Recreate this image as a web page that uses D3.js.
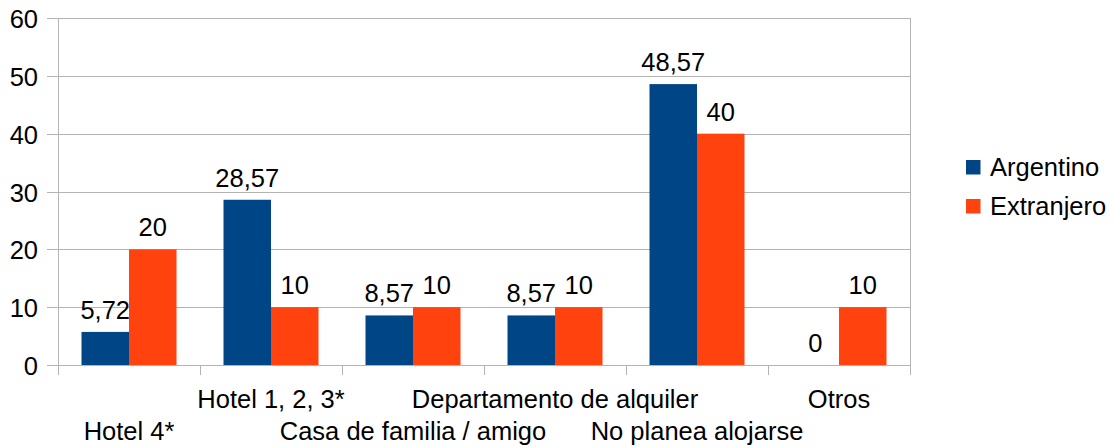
<!DOCTYPE html>
<html>
<head>
<meta charset="utf-8">
<script src="https://cdn.jsdelivr.net/npm/d3@7"></script>
<style>
	body { margin: 0; background: #fff; }
	text { font-family: "Liberation Sans", Arial, sans-serif; fill: #000; }
</style>
</head>
<body>
<div id="chart"></div>
<script>
// Data
var categories = ["Hotel 4*", "Hotel 1, 2, 3*", "Casa de familia / amigo", "Departamento de alquiler", "No planea alojarse", "Otros"];
var argentino = [5.72, 28.57, 8.57, 8.57, 48.57, 0];
var extranjero = [20, 10, 10, 10, 40, 10];
var seriesNames = ["Argentino", "Extranjero"];
var yTicks = [0, 10, 20, 30, 40, 50, 60];

var colors = ["#004586", "#ff420e"];
var fontSize = "25.5px";

var size = { width: 1116, height: 448 };
var plot = { left: 58, right: 910, top: 18, bottom: 365 };

var svg = d3.select("#chart").append("svg")
	.attr("width", size.width)
	.attr("height", size.height);

// scales
var x = d3.scaleBand()
	.domain(categories)
	.range([plot.left, plot.right]);

var y = d3.scaleLinear()
	.domain([0, 60])
	.range([plot.bottom, plot.top]);

var barW = 47.5;

// gridlines
svg.append("g").selectAll("line")
	.data(yTicks)
	.enter()
	.append("line")
	.attr("x1", plot.left - 11)
	.attr("x2", plot.right)
	.attr("y1", function(d) { return Math.round(y(d)) + 0.5; })
	.attr("y2", function(d) { return Math.round(y(d)) + 0.5; })
	.attr("stroke", "#b3b3b3")
	.attr("stroke-width", 1);

// y tick labels
svg.append("g").selectAll("text")
	.data(yTicks)
	.enter()
	.append("text")
	.attr("x", 38)
	.attr("y", function(d) { return y(d) + 10; })
	.attr("text-anchor", "end")
	.style("font-size", fontSize)
	.text(function(d) { return d; });

// vertical axis lines
svg.append("line")
	.attr("x1", plot.left + 0.5).attr("x2", plot.left + 0.5)
	.attr("y1", plot.top).attr("y2", plot.bottom + 1)
	.attr("stroke", "#b3b3b3");
svg.append("line")
	.attr("x1", plot.right + 0.5).attr("x2", plot.right + 0.5)
	.attr("y1", plot.top).attr("y2", plot.bottom + 1)
	.attr("stroke", "#b3b3b3");

// x category ticks
var tickPos = categories.map(function(c) { return x(c); }).concat([plot.right]);
svg.append("g").selectAll("line")
	.data(tickPos)
	.enter()
	.append("line")
	.attr("x1", function(d) { return Math.round(d) + 0.5; })
	.attr("x2", function(d) { return Math.round(d) + 0.5; })
	.attr("y1", plot.bottom)
	.attr("y2", plot.bottom + 10)
	.attr("stroke", "#b3b3b3");

// bars
var seriesData = [argentino, extranjero];
seriesData.forEach(function(values, s) {
	var g = svg.append("g");
	g.selectAll("rect")
		.data(values)
		.enter()
		.append("rect")
		.attr("x", function(d, i) { return x(categories[i]) + x.bandwidth() / 2 - barW + s * barW; })
		.attr("y", function(d) { return y(d); })
		.attr("width", barW)
		.attr("height", function(d) { return y(0) - y(d); })
		.attr("fill", colors[s]);

	g.selectAll("text")
		.data(values)
		.enter()
		.append("text")
		.attr("x", function(d, i) { return x(categories[i]) + x.bandwidth() / 2 - barW / 2 + s * barW; })
		.attr("y", function(d) { return y(d) - 13; })
		.attr("text-anchor", "middle")
		.style("font-size", fontSize)
		.text(function(d) { return String(d).replace(".", ","); });
});

// category labels, staggered
svg.append("g").selectAll("text")
	.data(categories)
	.enter()
	.append("text")
	.attr("x", function(d) { return x(d) + x.bandwidth() / 2; })
	.attr("y", function(d, i) { return i % 2 == 0 ? 440 : 408; })
	.attr("text-anchor", "middle")
	.style("font-size", fontSize)
	.text(function(d) { return d; });

// legend
var legend = svg.append("g")
	.attr("transform", "translate(966, 160)");

seriesNames.forEach(function(name, i) {
	var item = legend.append("g")
		.attr("transform", "translate(0, " + (i * 39) + ")");
	item.append("rect")
		.attr("width", 14.5)
		.attr("height", 14.5)
		.attr("fill", colors[i]);
	item.append("text")
		.attr("x", 24)
		.attr("y", 16)
		.style("font-size", fontSize)
		.text(name);
});
</script>
</body>
</html>
